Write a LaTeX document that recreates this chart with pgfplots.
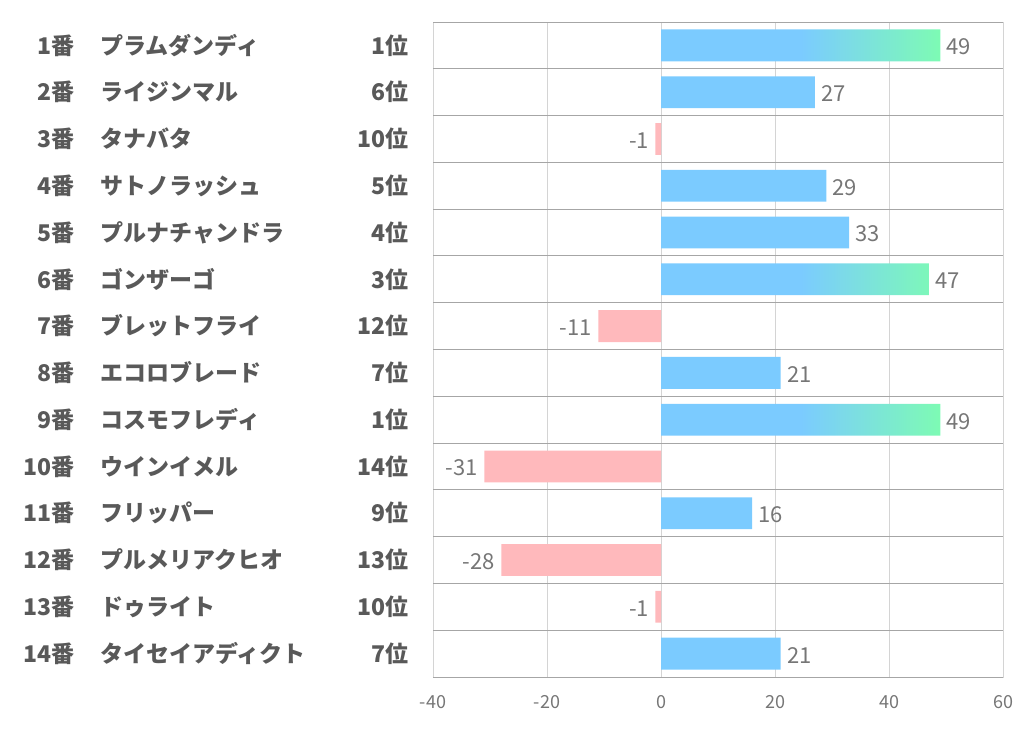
\documentclass[border=0pt]{standalone}
\usepackage{pgfplots}
\pgfplotsset{compat=1.18}
\usepackage{fontspec}
\setmainfont{Noto Sans CJK JP}
\definecolor{barblue}{HTML}{7BCBFF}
\definecolor{bargreen}{HTML}{7DFBB4}
\definecolor{barpink}{HTML}{FFB9BC}
\definecolor{lblgray}{HTML}{595959}
\definecolor{valgray}{HTML}{767676}
\definecolor{hgrid}{HTML}{A6A6A6}
\definecolor{vgrid}{HTML}{D4D4D4}
\pgfdeclarehorizontalshading{bargrad}{100bp}{color(0bp)=(barblue); color(25bp)=(barblue); color(50bp)=(barblue); color(75bp)=(bargreen); color(100bp)=(bargreen)}
\newcommand{\lbl}[3]{\makebox[194.5pt][l]{\makebox[27.5pt][r]{#1番}\hspace{13pt}#2\hfill #3位}}
\begin{document}
\begin{tikzpicture}
\useasboundingbox (0,0) rectangle (511pt,365pt);
\begin{axis}[
  at={(216.5pt,26.5pt)}, anchor=south west,
  scale only axis, width=285pt, height=327.5pt,
  xmin=-40, xmax=60, ymin=0.5, ymax=14.5, y dir=reverse,
  xtick={-40,-20,0,20,40,60}, ytick={1,2,3,4,5,6,7,8,9,10,11,12,13,14},
  yticklabels={
    \lbl{1}{プラムダンディ}{1},
    \lbl{2}{ライジンマル}{6},
    \lbl{3}{タナバタ}{10},
    \lbl{4}{サトノラッシュ}{5},
    \lbl{5}{プルナチャンドラ}{4},
    \lbl{6}{ゴンザーゴ}{3},
    \lbl{7}{ブレットフライ}{12},
    \lbl{8}{エコロブレード}{7},
    \lbl{9}{コスモフレディ}{1},
    \lbl{10}{ウインイメル}{14},
    \lbl{11}{フリッパー}{9},
    \lbl{12}{プルメリアクヒオ}{13},
    \lbl{13}{ドゥライト}{10},
    \lbl{14}{タイセイアディクト}{7}},
  yticklabel style={anchor=east, inner sep=0pt, xshift=-12pt, font=\bfseries\fontsize{11.5}{12}\selectfont, text=lblgray},
  xticklabel style={anchor=center, inner sep=0pt, yshift=-12.5pt, font=\fontsize{9}{10}\selectfont, text=valgray},
  /pgf/number format/assume math mode=true,
  xmajorgrids, major grid style={vgrid, line width=0.5pt},
  extra y ticks={0.5,1.5,2.5,3.5,4.5,5.5,6.5,7.5,8.5,9.5,10.5,11.5,12.5,13.5,14.5}, extra y tick labels={},
  extra y tick style={ymajorgrids=true, major grid style={hgrid, line width=0.5pt}},
  axis line style={vgrid, line width=0.5pt},
  major tick length=0pt,
  xbar, bar width=0.68,
  nodes near coords={\pgfmathprintnumber[assume math mode=true]{\pgfplotspointmeta}},
  nodes near coords style={font=\fontsize{11}{12}\selectfont, text=valgray, inner sep=3pt, yshift=-0.8pt},
]
\addplot[fill=barblue, draw=none, bar shift=0pt, nodes near coords style={anchor=west}]
  coordinates {(27,2) (29,4) (33,5) (21,8) (16,11) (21,14)};
\addplot[shade, shading=bargrad, draw=none, bar shift=0pt, nodes near coords style={anchor=west}]
  coordinates {(49,1) (47,6) (49,9)};
\addplot[fill=barpink, draw=none, bar shift=0pt, nodes near coords style={anchor=east}]
  coordinates {(-1,3) (-11,7) (-31,10) (-28,12) (-1,13)};
\end{axis}
\end{tikzpicture}
\end{document}
